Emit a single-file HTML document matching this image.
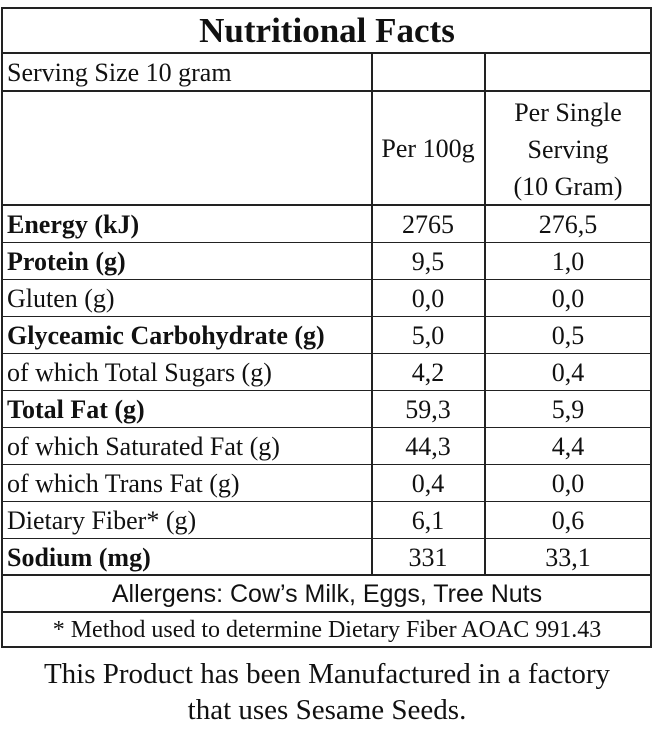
<!DOCTYPE html><html><head><style>
body{margin:0;width:654px;height:734px;background:#fff;font-family:"Liberation Serif",serif;color:#111;position:relative;overflow:hidden}
.l{position:absolute;background:#222}
.t{position:absolute;white-space:nowrap;font-size:26px;line-height:37px}
.c1{left:372px;width:112px;text-align:center}
.c2{left:485px;width:166px;text-align:center}
</style></head><body>
<div class="l" style="left:1px;top:7px;width:651px;height:2px"></div>
<div class="l" style="left:1px;top:7px;width:2px;height:641px"></div>
<div class="l" style="left:650px;top:7px;width:2px;height:641px"></div>
<div class="l" style="left:1px;top:646px;width:651px;height:2px"></div>
<div class="l" style="left:1px;top:52px;width:651px;height:2px"></div>
<div class="l" style="left:1px;top:90px;width:651px;height:2px"></div>
<div class="l" style="left:1px;top:204px;width:651px;height:2px"></div>
<div class="l" style="left:371px;top:52px;width:2px;height:523px"></div>
<div class="l" style="left:484px;top:52px;width:2px;height:523px"></div>
<div class="l" style="left:1px;top:242px;width:651px;height:1px"></div>
<div class="l" style="left:1px;top:279px;width:651px;height:1px"></div>
<div class="l" style="left:1px;top:316px;width:651px;height:1px"></div>
<div class="l" style="left:1px;top:353px;width:651px;height:1px"></div>
<div class="l" style="left:1px;top:390px;width:651px;height:1px"></div>
<div class="l" style="left:1px;top:427px;width:651px;height:1px"></div>
<div class="l" style="left:1px;top:464px;width:651px;height:1px"></div>
<div class="l" style="left:1px;top:501px;width:651px;height:1px"></div>
<div class="l" style="left:1px;top:538px;width:651px;height:1px"></div>
<div class="l" style="left:1px;top:574px;width:651px;height:2px"></div>
<div class="l" style="left:1px;top:611px;width:651px;height:2px"></div>

<div class="t" style="left:0;width:654px;top:10px;line-height:42px;text-align:center;font-size:35px;font-weight:bold">Nutritional Facts</div>
<div class="t" style="left:7px;top:54px">Serving Size 10 gram</div>
<div class="t c1" style="top:130px">Per 100g</div>
<div class="t c2" style="top:94px">Per Single</div>
<div class="t c2" style="top:131px">Serving</div>
<div class="t c2" style="top:168px">(10 Gram)</div>

<div class="t" style="left:7px;top:206px"><b>Energy (kJ)</b></div><div class="t c1" style="top:206px">2765</div><div class="t c2" style="top:206px">276,5</div>
<div class="t" style="left:7px;top:243px"><b>Protein (g)</b></div><div class="t c1" style="top:243px">9,5</div><div class="t c2" style="top:243px">1,0</div>
<div class="t" style="left:7px;top:280px">Gluten (g)</div><div class="t c1" style="top:280px">0,0</div><div class="t c2" style="top:280px">0,0</div>
<div class="t" style="left:7px;top:317px"><b>Glyceamic Carbohydrate (g)</b></div><div class="t c1" style="top:317px">5,0</div><div class="t c2" style="top:317px">0,5</div>
<div class="t" style="left:7px;top:354px">of which Total Sugars (g)</div><div class="t c1" style="top:354px">4,2</div><div class="t c2" style="top:354px">0,4</div>
<div class="t" style="left:7px;top:391px"><b>Total Fat (g)</b></div><div class="t c1" style="top:391px">59,3</div><div class="t c2" style="top:391px">5,9</div>
<div class="t" style="left:7px;top:428px">of which Saturated Fat (g)</div><div class="t c1" style="top:428px">44,3</div><div class="t c2" style="top:428px">4,4</div>
<div class="t" style="left:7px;top:465px">of which Trans Fat (g)</div><div class="t c1" style="top:465px">0,4</div><div class="t c2" style="top:465px">0,0</div>
<div class="t" style="left:7px;top:502px">Dietary Fiber* (g)</div><div class="t c1" style="top:502px">6,1</div><div class="t c2" style="top:502px">0,6</div>
<div class="t" style="left:7px;top:539px"><b>Sodium (mg)</b></div><div class="t c1" style="top:539px">331</div><div class="t c2" style="top:539px">33,1</div>

<div class="t" style="left:0;width:654px;top:576px;text-align:center;font-family:'Liberation Sans',sans-serif;font-size:25px">Allergens: Cow’s Milk, Eggs, Tree Nuts</div>
<div class="t" style="left:0;width:654px;top:612px;text-align:center;font-size:24px">* Method used to determine Dietary Fiber AOAC 991.43</div>
<div class="t" style="left:0;width:654px;top:656px;line-height:36px;text-align:center;font-size:29px">This Product has been Manufactured in a factory</div>
<div class="t" style="left:0;width:654px;top:692px;line-height:36px;text-align:center;font-size:29px">that uses Sesame Seeds.</div>
</body></html>
